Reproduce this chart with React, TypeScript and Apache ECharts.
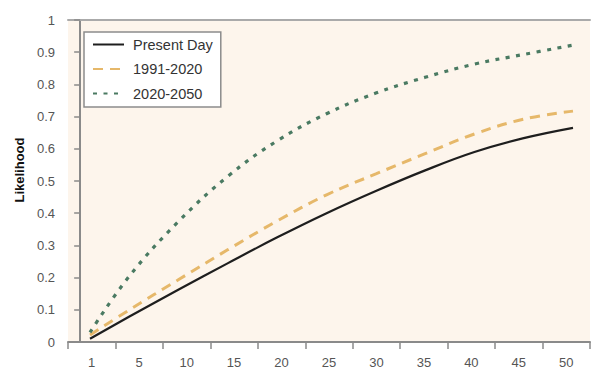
import React, { useEffect, useRef } from "react";
import * as echarts from "echarts";

const xLabels = ["1", "5", "10", "15", "20", "25", "30", "35", "40", "45", "50"];
const xValues = [1, 5, 10, 15, 20, 25, 30, 35, 40, 45, 50];
const presentDay = [0.01, 0.079, 0.163, 0.245, 0.325, 0.4, 0.469, 0.533, 0.59, 0.633, 0.665];
const period1991 = [0.022, 0.1, 0.194, 0.287, 0.376, 0.457, 0.522, 0.585, 0.646, 0.692, 0.717];
const period2020 = [0.03, 0.205, 0.375, 0.515, 0.625, 0.709, 0.773, 0.822, 0.863, 0.893, 0.922];
const seriesNames = ["Present Day", "1991-2020", "2020-2050"];

const FONT = "'Liberation Sans', Arial, sans-serif";

export default function App() {
  const ref = useRef<HTMLDivElement>(null);
  useEffect(() => {
    if (!ref.current) return;
    const chart = echarts.init(ref.current, undefined, { renderer: "svg" });
    const pts = (ys: number[]) => xValues.map((x, i) => [x, ys[i]]);
    chart.setOption({
      animation: false,
      textStyle: { fontFamily: FONT },
      grid: {
        left: 68,
        right: 2,
        top: 20,
        bottom: 33,
        show: true,
        backgroundColor: "#fdf5ec",
        borderWidth: 0,
      },
      legend: {
        orient: "vertical",
        left: 84,
        top: 32,
        backgroundColor: "#ffffff",
        borderColor: "#8c8c8c",
        borderWidth: 1.5,
        borderRadius: 0,
        padding: [5, 8, 6, 8],
        itemWidth: 31,
        itemHeight: 14,
        itemGap: 9.5,
        data: seriesNames,
        itemStyle: { opacity: 0 },
        textStyle: {
          fontFamily: FONT,
          fontSize: 14.5,
          color: "#333",
          padding: [0, 0, 0, 4],
          lineHeight: 14,
        },
      },
      xAxis: [
        {
          type: "category",
          data: xLabels,
          position: "bottom",
          boundaryGap: true,
          axisLine: { show: true, lineStyle: { color: "#8a8a8a", width: 2 } },
          axisTick: { show: true, length: 7, alignWithLabel: false, lineStyle: { color: "#8a8a8a", width: 1.5 } },
          axisLabel: { color: "#555", fontSize: 13, margin: 14, fontFamily: FONT },
          splitLine: { show: false },
        },
        {
          type: "value",
          position: "top",
          min: -1.232,
          max: 51.725,
          axisLine: { show: true, onZero: false, lineStyle: { color: "#aaaaaa", width: 2 } },
          axisTick: { show: false },
          axisLabel: { show: false },
          splitLine: { show: false },
        },
      ],
      yAxis: {
        type: "value",
        min: 0,
        max: 1,
        interval: 0.1,
        axisLine: { show: true, lineStyle: { color: "#8a8a8a", width: 2 } },
        axisTick: { show: true, length: 6, lineStyle: { color: "#8a8a8a", width: 1.5 } },
        axisLabel: {
          color: "#555",
          fontSize: 13,
          margin: 13,
          fontFamily: FONT,
          formatter: (v: number) => (v === 0 ? "0" : v === 1 ? "1" : v.toFixed(1)),
        },
        splitLine: { show: false },
      },
      graphic: [
        {
          type: "text",
          x: 19,
          y: 170,
          rotation: Math.PI / 2,
          style: {
            text: "Likelihood",
            align: "center",
            verticalAlign: "middle",
            font: `bold 13px ${FONT}`,
            fill: "#111",
          },
        },
      ],
      series: [
        {
          name: seriesNames[0],
          type: "line",
          xAxisIndex: 1,
          data: pts(presentDay),
          smooth: 0.4,
          symbol: "none",
          lineStyle: { color: "#1e1e1e", width: 2.2, type: "solid" },
          itemStyle: { color: "#1e1e1e" },
        },
        {
          name: seriesNames[1],
          type: "line",
          xAxisIndex: 1,
          data: pts(period1991),
          smooth: 0.4,
          symbol: "none",
          lineStyle: { color: "#e6b86a", width: 3, type: [10, 7] },
          itemStyle: { color: "#e6b86a" },
        },
        {
          name: seriesNames[2],
          type: "line",
          xAxisIndex: 1,
          data: pts(period2020),
          smooth: 0.4,
          symbol: "none",
          lineStyle: { color: "#4a7a62", width: 3.2, type: [4, 6.5] },
          itemStyle: { color: "#4a7a62" },
        },
      ],
    });
    return () => chart.dispose();
  }, []);
  return (
    <div
      ref={ref}
      style={{ position: "fixed", left: 0, top: 0, width: 592, height: 375, background: "#ffffff" }}
    />
  );
}
